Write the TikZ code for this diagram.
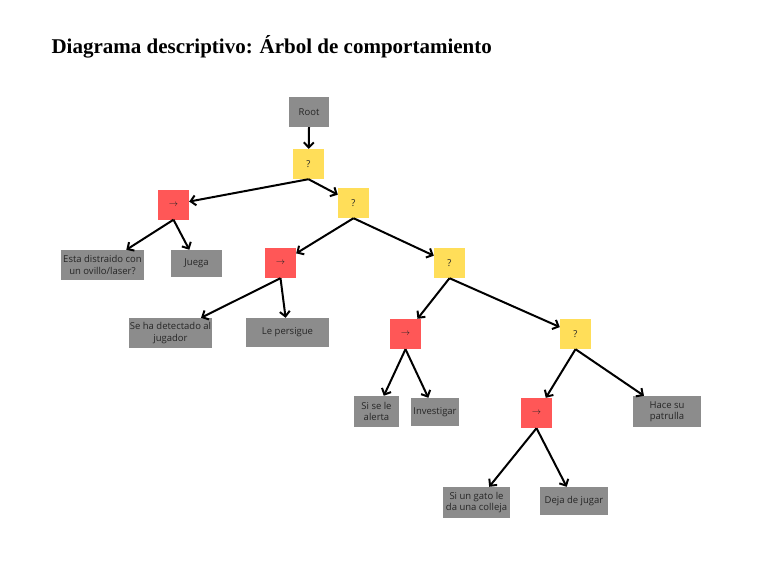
\documentclass[tikz,border=0pt]{standalone}
\usepackage{fontspec}
\setmainfont{Liberation Serif}
\newfontfamily\cajafont{Open Sans}
\usetikzlibrary{arrows.meta}
\definecolor{gris}{RGB}{140,140,140}
\definecolor{amarillo}{RGB}{255,222,89}
\definecolor{rojo}{RGB}{255,87,87}
\begin{document}
\begin{tikzpicture}[x=1pt,y=-1pt,
  caja/.style={inner sep=0pt,align=center,text=black!85,
    font=\cajafont\fontsize{9.5}{11.5}\selectfont},
  hoja/.style={caja,fill=gris},
  selector/.style={caja,fill=amarillo,minimum width=31pt,minimum height=30pt},
  secuencia/.style={caja,fill=rojo,minimum width=31pt,minimum height=30pt},
  flecha/.style={-{Straight Barb[length=5pt,width=10pt]},line width=2pt}]
\useasboundingbox (0,0) rectangle (781,568);
% Titulo
\node[anchor=base west,font=\bfseries\fontsize{21}{24}\selectfont] (titulo) at (48,53)
  {Diagrama descriptivo: Árbol de comportamiento};
% Nodos del arbol
\node[hoja,minimum width=40pt,minimum height=30pt] (raiz) at (309,112) {Root};
\node[selector] (sel1) at (308.5,164) {?};
\node[secuencia] (sec1) at (173.5,204.5) {$\rightarrow$};
\node[selector] (sel2) at (353.5,203) {?};
\node[hoja,minimum width=83pt,minimum height=30pt] (distraido) at (102.5,265)
  {Esta distraido con\\un ovillo/laser?};
\node[hoja,minimum width=51pt,minimum height=27pt] (juega) at (196.5,263.5) {Juega};
\node[secuencia] (sec2) at (280.5,263) {$\rightarrow$};
\node[selector] (sel3) at (449.5,263) {?};
\node[hoja,minimum width=83pt,minimum height=30pt] (detectado) at (170.5,333)
  {Se ha detectado al\\jugador};
\node[hoja,minimum width=83pt,minimum height=29pt] (persigue) at (287.5,332.5) {Le persigue};
\node[secuencia] (sec3) at (405.5,334) {$\rightarrow$};
\node[selector] (sel4) at (575.5,334) {?};
\node[hoja,minimum width=45pt,minimum height=31pt] (alerta) at (376.5,411.5)
  {Si se le\\alerta};
\node[hoja,minimum width=48pt,minimum height=28pt] (investigar) at (435,412) {Investigar};
\node[secuencia] (sec4) at (536.5,413) {$\rightarrow$};
\node[hoja,minimum width=68pt,minimum height=31pt] (patrulla) at (667,411.5)
  {Hace su\\patrulla};
\node[hoja,minimum width=67pt,minimum height=31pt] (colleja) at (476.5,502.5)
  {Si un gato le\\da una colleja};
\node[hoja,minimum width=68pt,minimum height=28pt] (dejajugar) at (574,501) {Deja de jugar};
% Conexiones
\draw[flecha] (raiz.south) -- (sel1);
\draw[flecha] (sel1.south) -- (sec1);
\draw[flecha] (sel1.south) -- (sel2);
\draw[flecha] (sec1.south) -- (distraido);
\draw[flecha] (sec1.south) -- (juega);
\draw[flecha] (sel2.south) -- (sec2);
\draw[flecha] (sel2.south) -- (sel3);
\draw[flecha] (sec2.south) -- (detectado);
\draw[flecha] (sec2.south) -- (persigue);
\draw[flecha] (sel3.south) -- (sec3);
\draw[flecha] (sel3.south) -- (sel4);
\draw[flecha] (sec3.south) -- (alerta);
\draw[flecha] (sec3.south) -- (investigar);
\draw[flecha] (sel4.south) -- (sec4);
\draw[flecha] (sel4.south) -- (patrulla);
\draw[flecha] (sec4.south) -- (colleja);
\draw[flecha] (sec4.south) -- (dejajugar);
\end{tikzpicture}
\end{document}
